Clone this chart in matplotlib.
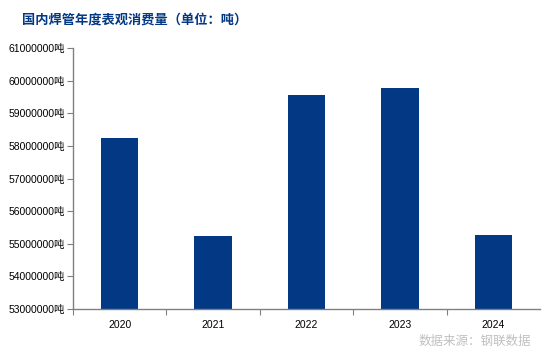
import numpy as np
import matplotlib.pyplot as plt

plt.rcParams['font.family'] = ['Noto Sans CJK SC', 'DejaVu Sans']

years = ['2020', '2021', '2022', '2023', '2024']
consumption = [58250000, 55240000, 59560000, 59780000, 55270000]
yticks = np.arange(53000000, 61000001, 1000000)

fig = plt.figure(figsize=(5.54, 3.54), dpi=100)
ax = fig.add_axes([0.1318, 0.127, 0.8429, 0.737])

x = np.arange(len(years))
ax.bar(x, consumption, width=0.4, color='#023884', zorder=2)

ax.set_ylim(53000000, 61000000)
ax.set_yticks(yticks)
ax.set_yticklabels([f'{v}吨' for v in yticks], fontsize=7.5, family=['Liberation Sans', 'Noto Sans CJK SC'])

ax.set_xlim(-0.5, 4.5)
ax.set_xticks(np.arange(-0.5, 4.0, 1.0))
ax.set_xticklabels([])
ax.set_xticks(x, minor=True)
ax.set_xticklabels(years, minor=True, fontsize=7.5, family=['Liberation Sans'])
ax.tick_params(axis='x', which='minor', length=0, pad=8)
ax.tick_params(axis='x', which='major', length=4, color='#808080', direction='out')
ax.tick_params(axis='y', length=4, color='#808080', direction='out', pad=2)

for s in ['top', 'right']:
    ax.spines[s].set_visible(False)
for s in ['left', 'bottom']:
    ax.spines[s].set_color('#808080')
    ax.spines[s].set_linewidth(1.0)

fig.text(0.04, 0.945, '国内焊管年度表观消费量（单位：吨）', fontsize=9.5, fontweight='bold',
         color='#023884', ha='left', va='center')
fig.text(0.958, 0.036, '数据来源：钢联数据', fontsize=9, color='#c0c0c0', ha='right', va='center')

fig.savefig('out.png', dpi=100)
